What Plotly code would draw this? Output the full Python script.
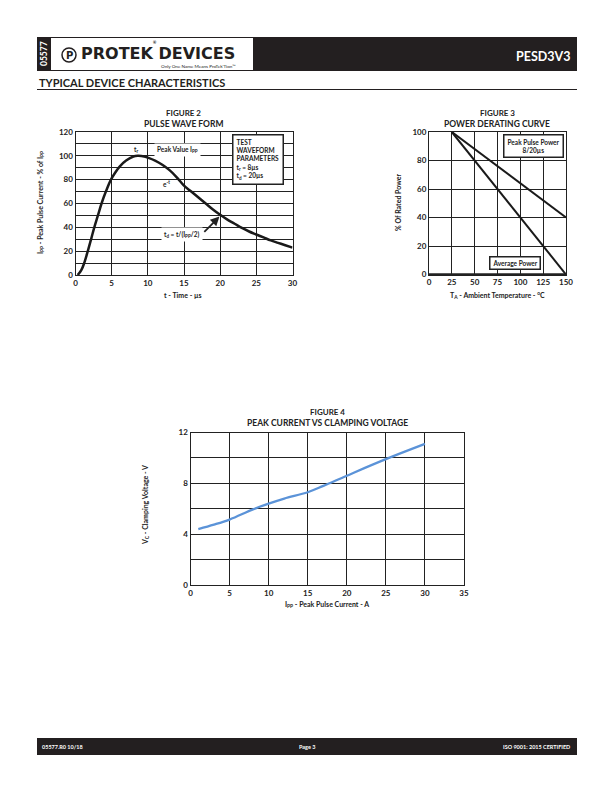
import plotly.graph_objects as go

# ---- dados ----
# Figura 2 - forma de onda 8/20us
t_us = [0.3, 0.8, 1.2, 1.7, 2.2, 2.6, 3.1, 3.6, 4.2, 4.9, 5.5, 6.1, 7, 8, 8.6, 9.5, 10, 11, 12, 13, 14, 15,
        16, 17, 18, 19, 20, 21, 22, 23, 24, 25, 26, 27, 28, 29, 30]
ipp_pct = [0, 4, 10, 20, 31, 40, 50, 60, 70, 80, 86, 91, 96, 99.4, 100, 99.5, 98.5, 96, 92.5, 88, 82, 75,
           70, 65, 60, 55, 50.5, 46.5, 43, 39.5, 36.5, 34, 31.5, 29, 27, 25, 23]

# Figura 3 - curva de derating
temp_c = [25, 150]
peak_pulse_power = [100, 40]
average_power = [100, 0]

# Figura 4 - corrente de pico vs tensao de grampeamento
ipp_a = [1, 3, 5, 8, 10, 12, 15, 17, 20, 25, 30]
vc_v = [4.4, 4.75, 5.15, 5.95, 6.4, 6.8, 7.3, 7.8, 8.6, 9.9, 11.1]

fig2_xticks = [0, 5, 10, 15, 20, 25, 30]
fig2_yticks = list(range(0, 121, 10))
fig3_xticks = [0, 25, 50, 75, 100, 125, 150]
fig3_yticks = [0, 20, 40, 60, 80, 100]
fig4_xticks = [0, 5, 10, 15, 20, 25, 30, 35]
fig4_yticks = [0, 2, 4, 6, 8, 10, 12]

W, H = 612, 792
FONT = "Lato"
# o body da pagina tem margem de 8px; compensa aqui
OX, OY = 8, 8


def px(x):
    return (x - OX) / W


def py(y):
    return 1 - (y - OY) / H


fig = go.Figure()

fig.add_trace(go.Scatter(x=t_us, y=ipp_pct, mode="lines", line=dict(color="#1a1a1a", width=2.5, shape="spline"),
                         xaxis="x", yaxis="y"))
fig.add_trace(go.Scatter(x=temp_c, y=peak_pulse_power, mode="lines", line=dict(color="#1a1a1a", width=2),
                         xaxis="x2", yaxis="y2"))
fig.add_trace(go.Scatter(x=temp_c, y=average_power, mode="lines", line=dict(color="#1a1a1a", width=2),
                         xaxis="x2", yaxis="y2"))
fig.add_trace(go.Scatter(x=ipp_a, y=vc_v, mode="lines", line=dict(color="#5b93d8", width=2.3, shape="spline"),
                         xaxis="x3", yaxis="y3"))

tickfont = dict(family=FONT, size=8, color="#222", weight="bold")
base_axis = dict(showgrid=True, gridcolor="#222", gridwidth=1, showline=True, linecolor="#222", linewidth=1,
                 mirror=True, zeroline=False, ticks="", tickfont=tickfont, fixedrange=True, automargin=False)


def lbl(vals, step):
    return [str(v) if v % step == 0 else "" for v in vals]


fig.update_layout(
    width=W, height=H, margin=dict(l=0, r=0, t=0, b=0),
    paper_bgcolor="white", plot_bgcolor="white", showlegend=False,
    xaxis=dict(base_axis, domain=[px(75.5), px(292.5)], range=[0, 30], anchor="y",
               tickvals=fig2_xticks),
    yaxis=dict(base_axis, domain=[py(275), py(132)], range=[0, 120], anchor="x",
               tickvals=fig2_yticks, ticktext=lbl(fig2_yticks, 20)),
    xaxis2=dict(base_axis, domain=[px(429), px(566)], range=[0, 150], anchor="y2",
                tickvals=fig3_xticks),
    yaxis2=dict(base_axis, domain=[py(274.5), py(132)], range=[0, 100], anchor="x2",
                tickvals=fig3_yticks),
    xaxis3=dict(base_axis, domain=[px(190.5), px(464)], range=[0, 35], anchor="y3",
                tickvals=fig4_xticks),
    yaxis3=dict(base_axis, domain=[py(585), py(432.5)], range=[0, 12], anchor="x3",
                tickvals=fig4_yticks, ticktext=lbl(fig4_yticks, 4)),
)

# eixo inferior mais grosso na figura 3
fig.add_shape(type="line", xref="x2 domain", yref="y2 domain", x0=0, x1=1, y0=0, y1=0,
              line=dict(color="#222", width=2.5))

shapes = [
    # cabecalho
    dict(type="rect", x0=px(37), x1=px(577), y0=py(71), y1=py(37), fillcolor="#231f20", line_width=0),
    dict(type="rect", x0=px(51), x1=px(253), y0=py(70), y1=py(38), fillcolor="white", line_width=0),
    dict(type="circle", x0=px(62), x1=px(76), y0=py(62), y1=py(48), line=dict(color="#231f20", width=1.5)),
    # linha abaixo do titulo da secao
    dict(type="line", x0=px(37), x1=px(577), y0=py(89.5), y1=py(89.5), line=dict(color="#231f20", width=1)),
    # rodape
    dict(type="rect", x0=px(37), x1=px(577), y0=py(755), y1=py(738), fillcolor="#231f20", line_width=0),
]
for s in shapes:
    fig.add_shape(xref="paper", yref="paper", **s)


def note(x, y, text, size=8, color="#222", bold=True, family=FONT, xanchor="center", **kw):
    fig.add_annotation(x=px(x), y=py(y), xref="paper", yref="paper", text=text, showarrow=False,
                       xanchor=xanchor, yanchor="middle",
                       font=dict(family=family, size=size, color=color, weight="bold" if bold else "normal"), **kw)


# cabecalho / rodape
note(44, 54, "05577", size=8.5, color="white", textangle=-90)
note(69, 55.5, "P", size=10, family="DejaVu Sans")
note(79, 54, "PROTEK DEVICES", size=16, color="#231f20", family="DejaVu Sans", xanchor="left")
note(155, 42, "®", size=4)
note(238, 66.5, "Only One Name Means ProTek'Tion™", size=4.6, bold=False, xanchor="right")
note(572, 57, "PESD3V3", size=12.5, color="white", xanchor="right")
note(37, 82, "TYPICAL DEVICE CHARACTERISTICS", size=11, color="#231f20", xanchor="left")
note(40, 746.5, "05577.R0 10/18", size=5.5, color="white", xanchor="left")
note(307, 746.5, "Page 3", size=5.5, color="white")
note(572, 746.5, "ISO 9001: 2015 CERTIFIED", size=5.5, color="white", xanchor="right")

# titulos das figuras
note(183, 113, "FIGURE 2", size=8)
note(183, 124, "PULSE WAVE FORM", size=8.5)
note(497, 113, "FIGURE 3", size=8)
note(497, 124, "POWER DERATING CURVE", size=8.5)
note(327, 412, "FIGURE 4", size=8)
note(327, 423, "PEAK CURRENT VS CLAMPING VOLTAGE", size=8.5)

# titulos dos eixos
note(183, 295, "t - Time - µs", size=7)
note(40, 203, "I<sub>PP</sub> - Peak Pulse Current - % of I<sub>PP</sub>", size=7, textangle=-90)
note(497, 295, "T<sub>A</sub> - Ambient Temperature - <sup>o</sup>C", size=7)
note(398, 203, "% Of Rated Power", size=7, textangle=-90)
note(327, 604, "I<sub>PP</sub> - Peak Pulse Current - A", size=7)
note(146, 505, "V<sub>C</sub> - Clamping Voltage - V", size=7, textangle=-90)

# anotacoes da figura 2
afont = dict(family=FONT, size=6.5, color="#222", weight="bold")
fig.add_annotation(x=8.3, y=105, xref="x", yref="y", text="t<sub>r</sub>", showarrow=False, font=afont)
fig.add_annotation(x=14.1, y=105, xref="x", yref="y", text="Peak Value I<sub>PP</sub>", showarrow=False,
                   font=afont, bgcolor="white", borderpad=2)
fig.add_annotation(x=12.6, y=76, xref="x", yref="y", text="e<sup>-t</sup>", showarrow=False, font=afont)
fig.add_annotation(x=14.7, y=33.6, xref="x", yref="y", text="t<sub>d</sub> = t/(I<sub>PP</sub>/2)",
                   showarrow=False, font=afont, bgcolor="white", borderpad=2)
fig.add_annotation(x=19.9, y=49, ax=17.6, ay=35, xref="x", yref="y", axref="x", ayref="y", text="",
                   showarrow=True, arrowhead=2, arrowsize=1, arrowwidth=1.8, arrowcolor="#222")
fig.add_annotation(x=21.7, y=118.5, xref="x", yref="y", xanchor="left", yanchor="top", align="left",
                   text="TEST<br>WAVEFORM<br>PARAMETERS<br>t<sub>r</sub> = 8µs<br>t<sub>d</sub> = 20µs",
                   showarrow=False, font=afont, bgcolor="white", bordercolor="#222", borderwidth=1.5,
                   borderpad=3)

# anotacoes da figura 3
fig.add_annotation(x=114, y=90, xref="x2", yref="y2", text="Peak Pulse Power<br>8/20µs", showarrow=False,
                   font=afont, bgcolor="white", bordercolor="#222", borderwidth=1.5, borderpad=3)
fig.add_annotation(x=94, y=8, xref="x2", yref="y2", text="Average Power", showarrow=False,
                   font=afont, bgcolor="white", bordercolor="#222", borderwidth=1.5, borderpad=2)

fig.write_html("out.html")
